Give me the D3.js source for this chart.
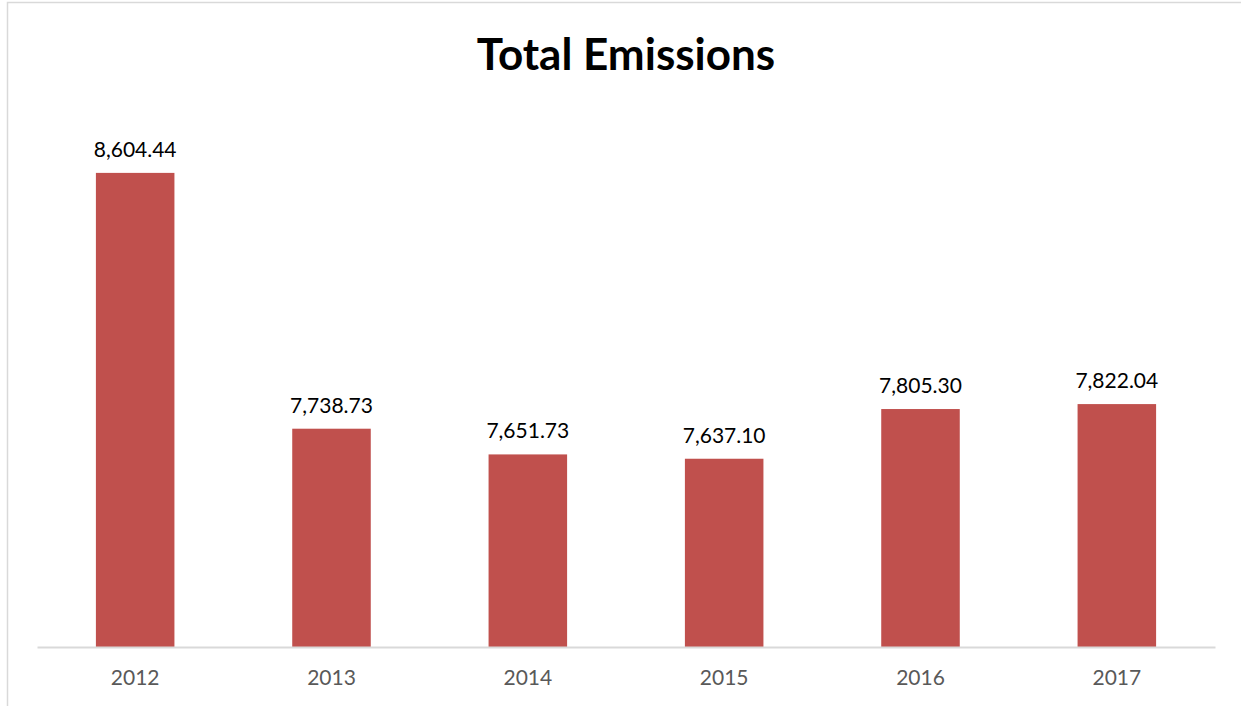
<!DOCTYPE html>
<html><head><meta charset="utf-8">
<script src="https://cdn.jsdelivr.net/npm/d3@7"></script>
<style>html,body{margin:0;padding:0;background:#fff;}svg{display:block;}</style>
</head><body>
<svg id="c" width="1241" height="706"></svg>
<script>
const years = ["2012","2013","2014","2015","2016","2017"];
const emissions = [8604.44, 7738.73, 7651.73, 7637.10, 7805.30, 7822.04];
const yDomain = [7000, 9000];
const title = "Total Emissions";

const svg = d3.select("#c");
const W = 1241, H = 706;
const m = {left: 37, right: 1215, top: 56, bottom: 647};

// chart border
svg.append("path")
  .attr("d", `M7.5,${H} V2.5 H${W}`)
  .attr("fill","none").attr("stroke","#d9d9d9").attr("stroke-width",1.5);

const x = d3.scaleBand().domain(years).range([m.left, m.right]).paddingInner(0.6).paddingOuter(0.3);
const y = d3.scaleLinear().domain(yDomain).range([m.bottom, m.top]);

svg.append("g").selectAll("rect").data(years).join("rect")
  .attr("x", d => x(d))
  .attr("width", x.bandwidth())
  .attr("y", (d,i) => y(emissions[i]))
  .attr("height", (d,i) => y(yDomain[0]) - y(emissions[i]))
  .attr("fill", "#c0504d");

const fmt = d3.format(",.2f");
svg.append("g").selectAll("text").data(years).join("text")
  .attr("x", d => x(d) + x.bandwidth()/2)
  .attr("y", (d,i) => y(emissions[i]) - 16)
  .attr("text-anchor","middle")
  .attr("font-family","Lato, 'Open Sans', sans-serif")
  .attr("font-size", 21)
  .attr("fill","#000")
  .text((d,i) => fmt(emissions[i]));

const ax = svg.append("g").attr("transform", `translate(0,${m.bottom})`)
  .call(d3.axisBottom(x).tickSize(0).tickPadding(23));
ax.select(".domain").attr("stroke","#d9d9d9").attr("stroke-width",2);
ax.selectAll("text").attr("font-family","Lato, 'Open Sans', sans-serif")
  .attr("font-size",21).attr("fill","#595959");

svg.append("text").attr("x", (m.left+m.right)/2).attr("y", 70)
  .attr("text-anchor","middle")
  .attr("font-family","Lato, 'Open Sans', sans-serif")
  .attr("font-weight","bold").attr("font-size",44).attr("fill","#000")
  .text(title);
</script>
</body></html>
